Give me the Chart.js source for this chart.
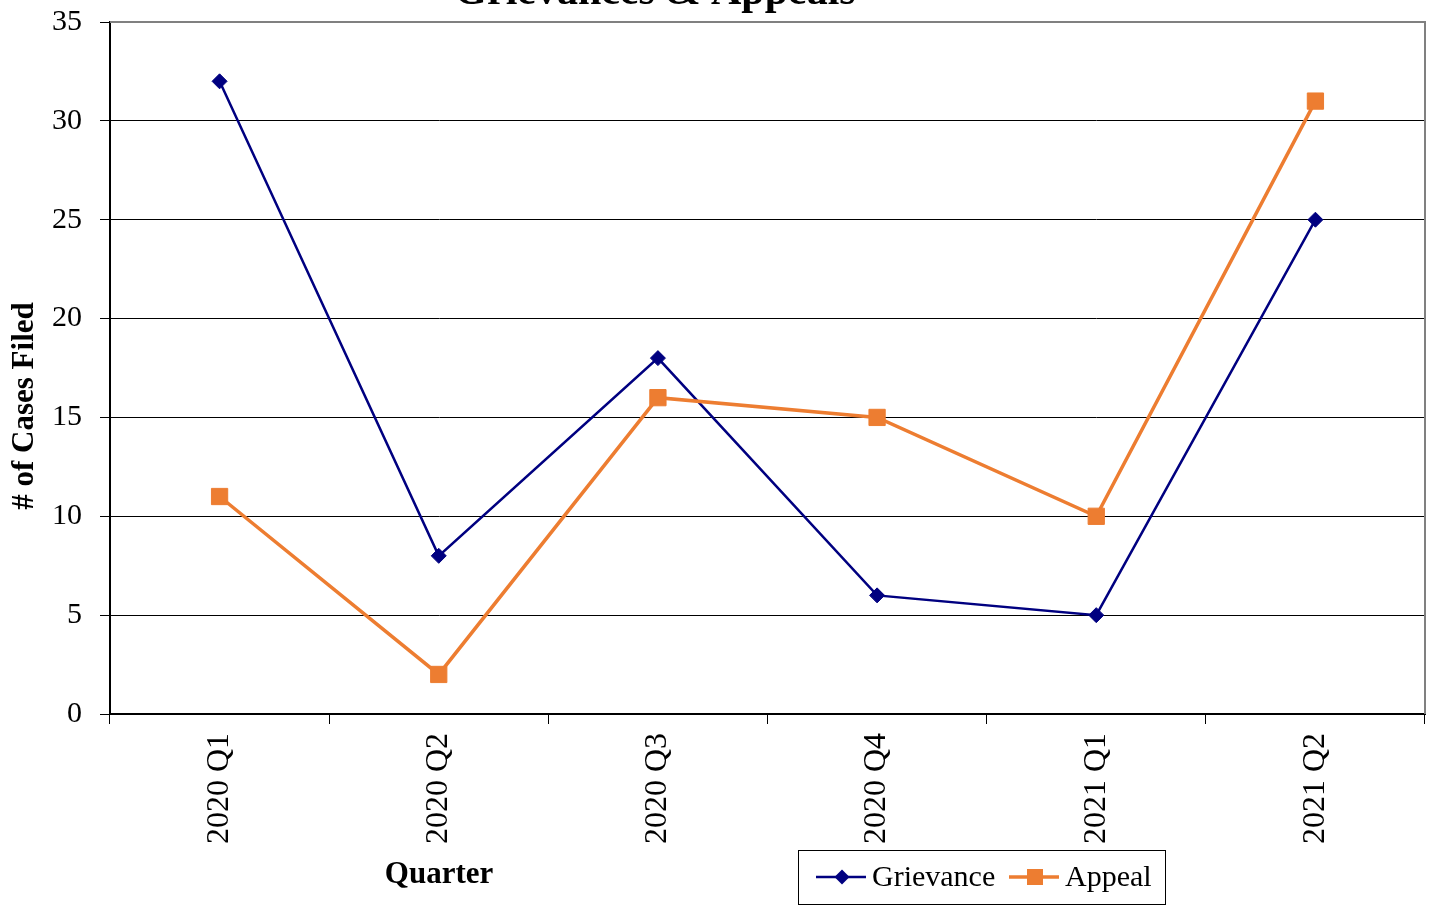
<!DOCTYPE html>
<html>
<head>
<meta charset="utf-8">
<script src="https://cdn.jsdelivr.net/npm/chart.js@4.4.1/dist/chart.umd.min.js"></script>
<style>
    html, body { margin: 0; padding: 0; background: #fff; }
    #chart { display: block; }
</style>
</head>
<body>
<canvas id="chart" width="1434" height="906"></canvas>
<script>
// Chart data
const quarters = ['2020 Q1', '2020 Q2', '2020 Q3', '2020 Q4', '2021 Q1', '2021 Q2'];
const grievance = [32, 8, 18, 6, 5, 25];
const appeal = [11, 2, 16, 15, 10, 31];
const yMin = 0;
const yMax = 35;
const yStep = 5;

const navy = '#000080';
const orange = '#ED7D31';
const serif = '"Liberation Serif", "Times New Roman", serif';

// Title, axis titles, frame and boxed legend drawn by hand
const extrasPlugin = {
    id: 'extras',
    afterDraw(chart) {
        const ctx = chart.ctx;
        const area = chart.chartArea;
        ctx.save();

        // gray top/right frame of the plot area
        ctx.strokeStyle = '#808080';
        ctx.lineWidth = 2;
        ctx.beginPath();
        ctx.moveTo(area.left, area.top);
        ctx.lineTo(area.right, area.top);
        ctx.lineTo(area.right, area.bottom);
        ctx.stroke();

        // chart title, mostly cut off at the top
        ctx.fillStyle = '#000';
        ctx.font = 'bold 42px ' + serif;
        ctx.textAlign = 'center';
        ctx.textBaseline = 'alphabetic';
        ctx.fillText('Grievances & Appeals', 655, 4);

        // x axis title
        ctx.font = 'bold 31px ' + serif;
        ctx.textBaseline = 'middle';
        ctx.fillText('Quarter', 439, 875);

        // y axis title
        ctx.translate(25, 406);
        ctx.rotate(-Math.PI / 2);
        ctx.fillText('# of Cases Filed', 0, 0);
        ctx.setTransform(1, 0, 0, 1, 0, 0);

        // legend box
        ctx.strokeStyle = '#000';
        ctx.lineWidth = 1;
        ctx.strokeRect(798.5, 850.5, 367, 54);

        const items = [
            { label: 'Grievance', color: navy, x: 816, width: 2.5, style: 'diamond' },
            { label: 'Appeal', color: orange, x: 1009, width: 3.5, style: 'square' }
        ];
        const ly = 877;
        ctx.font = '30px ' + serif;
        ctx.textAlign = 'left';
        items.forEach(item => {
            ctx.strokeStyle = item.color;
            ctx.fillStyle = item.color;
            ctx.lineWidth = item.width;
            ctx.beginPath();
            ctx.moveTo(item.x, ly);
            ctx.lineTo(item.x + 50, ly);
            ctx.stroke();
            const cx = item.x + 26;
            if (item.style === 'diamond') {
                ctx.beginPath();
                ctx.moveTo(cx, ly - 7.5);
                ctx.lineTo(cx + 7.5, ly);
                ctx.lineTo(cx, ly + 7.5);
                ctx.lineTo(cx - 7.5, ly);
                ctx.closePath();
                ctx.fill();
            } else {
                ctx.fillRect(cx - 8, ly - 8, 16, 16);
            }
            ctx.fillStyle = '#000';
            ctx.fillText(item.label, item.x + 56, ly + 1);
        });

        ctx.restore();
    }
};

const ctx = document.getElementById('chart').getContext('2d');
new Chart(ctx, {
    type: 'line',
    data: {
        labels: quarters,
        datasets: [
            {
                label: 'Grievance',
                data: grievance,
                borderColor: navy,
                backgroundColor: navy,
                borderWidth: 2.5,
                pointStyle: 'rectRot',
                pointRadius: 7.5,
                pointBorderWidth: 1,
                tension: 0,
                order: 1
            },
            {
                label: 'Appeal',
                data: appeal,
                borderColor: orange,
                backgroundColor: orange,
                borderWidth: 3.5,
                pointStyle: 'rect',
                pointRadius: 11.5,
                pointBorderWidth: 1,
                tension: 0,
                order: 0
            }
        ]
    },
    options: {
        responsive: false,
        animation: false,
        devicePixelRatio: 1,
        layout: {
            autoPadding: false,
            padding: { top: 22, right: 9, left: 0, bottom: 0 }
        },
        plugins: {
            legend: { display: false },
            title: { display: false },
            tooltip: { enabled: false }
        },
        scales: {
            x: {
                offset: true,
                grid: {
                    offset: true,
                    drawOnChartArea: false,
                    drawTicks: true,
                    tickLength: 10,
                    color: '#000'
                },
                border: { color: '#000', width: 2 },
                ticks: {
                    color: '#000',
                    font: { family: serif, size: 32 },
                    minRotation: 90,
                    maxRotation: 90,
                    padding: 9
                },
                afterFit(scale) {
                    scale.height = 192;
                    scale.paddingLeft = 0;
                    scale.paddingRight = 0;
                }
            },
            y: {
                min: yMin,
                max: yMax,
                grid: {
                    color: '#000',
                    lineWidth: 1,
                    tickLength: 10
                },
                border: { color: '#000', width: 2 },
                ticks: {
                    stepSize: yStep,
                    color: '#000',
                    font: { family: serif, size: 30 },
                    padding: 18
                },
                afterFit(scale) {
                    scale.width = 110;
                    scale.paddingTop = 0;
                    scale.paddingBottom = 0;
                }
            }
        }
    },
    plugins: [extrasPlugin]
});
</script>
</body>
</html>
